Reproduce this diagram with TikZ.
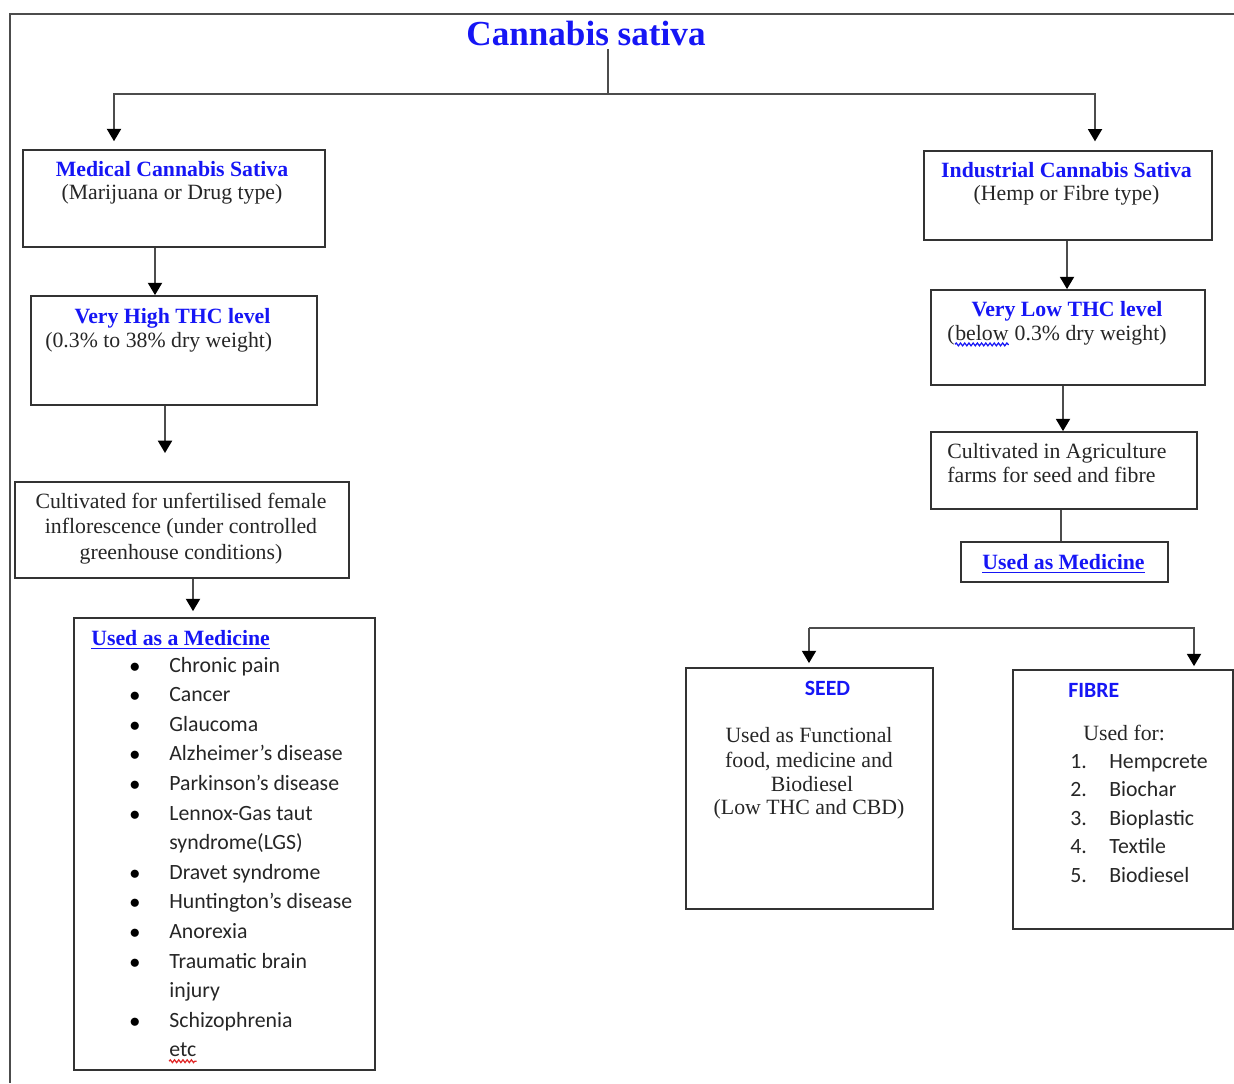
\documentclass[tikz,border=0pt]{standalone}
\usepackage{fontspec}
\setmainfont{Liberation Serif}
\newfontfamily\calibri{Carlito}
\usetikzlibrary{arrows.meta,positioning,fit,decorations.pathmorphing}
\definecolor{hblue}{RGB}{22,22,245}
\definecolor{wavered}{RGB}{225,40,40}
\newcommand\bodysize{\fontsize{12.4}{14}\selectfont}
\tikzset{
	frame/.style = {draw = black!70, line width = 1pt},
	box/.style = {draw = black!80, line width = 1pt, inner sep = 0pt},
	txt/.style = {anchor = base, inner sep = 0pt, font = \bodysize, text = black!85},
	head/.style = {txt, font = \bfseries\bodysize, text = hblue},
	list/.style = {txt, anchor = base west, font = \calibri\bodysize},
	squiggle/.style = {draw = #1, line width = 0.7pt, decorate,
		decoration = {snake, amplitude = 0.8pt, segment length = 2.4pt}},
	link/.style = {draw = black!70, line width = 1pt},
	arr/.style = {link, -{Triangle[width = 8pt, length = 7pt, color = black]}}
}
\begin{document}
\begin{tikzpicture}[x = 0.02cm, y = -0.02cm]
	\useasboundingbox (0,0) rectangle (1234,1083);
	\draw [frame] (1234,14) -- (10,14) -- (10,1083);

	% top
	\node [head, font = \bfseries\fontsize{20}{24}\selectfont] (cs) at (586,45) {Cannabis sativa};
	\coordinate (hub) at (608,94);

	% medical side
	\node [box, fit = {(23,150) (325,247)}] (med) {};
	\node [head] (medA) at (172,176) {Medical Cannabis Sativa};
	\node [txt] (medB) at (172,199) {(Marijuana or Drug type)};

	\node [box, fit = {(31,296) (317,405)}] (high) {};
	\node [head] (highA) at (172.5,323) {Very High THC level};
	\node [txt, anchor = base west] (highB) at (45,347) {(0.3\% to 38\% dry weight)};
	\coordinate (highend) at (165,453);

	\node [box, fit = {(15,482) (349,578)}] (grow) {};
	\foreach \t [count = \k from 0] in {Cultivated for unfertilised female,
		inflorescence (under controlled, greenhouse conditions)}{
		\pgfmathsetmacro\y{508 + 25.5*\k}
		\node [txt] (grow\k) at (181,\y) {\t};
	}

	\node [box, fit = {(74,618) (375,1070)}] (use) {};
	\node [head, anchor = base west] (useA) at (91,645) {Used as a Medicine};
	\draw [hblue, line width = 0.7pt] ([yshift = -2pt]useA.base west) -- ([yshift = -2pt]useA.base east);
	\foreach \b/\t [count = \k from 0] in {1/Chronic pain, 1/Cancer, 1/Glaucoma,
		1/Alzheimer’s disease, 1/Parkinson’s disease, 1/Lennox-Gas taut,
		0/syndrome(LGS), 1/Dravet syndrome, 1/Huntington’s disease, 1/Anorexia,
		1/Traumatic brain, 0/injury, 1/Schizophrenia, 0/etc}{
		\pgfmathsetmacro\y{672 + 29.6*\k}
		\node [list] (item\k) at (169,\y) {\t};
		\ifnum\b=1
			\node [txt, text = black] (dot\k) at (135,\y) {$\bullet$};
		\fi
	}
	\draw [squiggle = wavered] ([yshift = -2.5pt]item13.base west) -- ([yshift = -2.5pt]item13.base east);

	% industrial side
	\node [box, fit = {(924,151) (1212,240)}] (ind) {};
	\node [head] (indA) at (1066.5,177) {Industrial Cannabis Sativa};
	\node [txt] (indB) at (1066.5,200) {(Hemp or Fibre type)};

	\node [box, fit = {(931,290) (1205,385)}] (low) {};
	\node [head] (lowA) at (1067,316) {Very Low THC level};
	\node [txt, anchor = base west] (lowB) at (947,340) {(};
	\node [txt, anchor = base west] (lowC) at (lowB.base east) {below};
	\node [txt, anchor = base west] (lowD) at (lowC.base east) {\ 0.3\% dry weight)};
	\draw [squiggle = hblue] ([yshift = -2.5pt]lowC.base west) -- ([yshift = -2.5pt]lowC.base east);

	\node [box, fit = {(931,432) (1197,509)}] (farm) {};
	\node [txt, anchor = base west] (farmA) at (947,458) {Cultivated in Agriculture};
	\node [txt, anchor = base west] (farmB) at (947,482) {farms for seed and fibre};

	\node [box, fit = {(961,542) (1168,582)}] (medi) {};
	\node [head] (mediA) at (1063.5,569) {Used as Medicine};
	\draw [hblue, line width = 0.7pt] ([yshift = -2pt]mediA.base west) -- ([yshift = -2pt]mediA.base east);

	\coordinate (sL) at (809,628);
	\coordinate (sR) at (1194,628);

	\node [box, fit = {(686,668) (933,909)}] (seed) {};
	\node [txt, font = \calibri\bfseries\bodysize, text = hblue] (seedA) at (827.5,695) {SEED};
	\node [txt] (seedB) at (809,742) {Used as Functional};
	\node [txt] (seedC) at (809,767) {food, medicine and};
	\node [txt] (seedD) at (812,791) {Biodiesel};
	\node [txt] (seedE) at (809,814) {(Low THC and CBD)};

	\node [box, fit = {(1013,670) (1233,929)}] (fibre) {};
	\node [txt, anchor = base west, font = \calibri\bfseries\bodysize, text = hblue] (fibreA) at (1068,697) {FIBRE};
	\node [txt, anchor = base west] (fibreB) at (1083,740) {Used for:};
	\foreach \t [count = \k] in {Hempcrete, Biochar, Bioplastic, Textile, Biodiesel}{
		\pgfmathsetmacro\y{768 + 28.5*(\k - 1)}
		\node [list] (num\k) at (1070,\y) {\k.};
		\node [list] (use\k) at (1109,\y) {\t};
	}

	% connectors
	\draw [link, shorten < = 2pt] (cs.south -| hub) -- (hub);
	\draw [arr, shorten > = 4.5pt] (hub) -| (med.north -| 114,0);
	\draw [arr, shorten > = 5pt] (hub) -| (ind.north -| 1095,0);
	\draw [arr] (med.south -| 155,0) -- (high.north -| 155,0);
	\draw [arr] (high.south -| highend) -- (highend);
	\draw [arr, shorten > = 3.4pt] (grow.south -| 193,0) -- (use.north -| 193,0);
	\draw [arr] (ind.south -| 1067,0) -- (low.north -| 1067,0);
	\draw [arr] (low.south -| 1063,0) -- (farm.north -| 1063,0);
	\draw [link] (farm.south -| 1061,0) -- (medi.north -| 1061,0);
	\draw [arr, shorten > = 2.3pt] (sL) -- (seed.north -| sL);
	\draw [arr, shorten > = 1.7pt] (sL) -- (sR) -- (fibre.north -| sR);
\end{tikzpicture}
\end{document}
